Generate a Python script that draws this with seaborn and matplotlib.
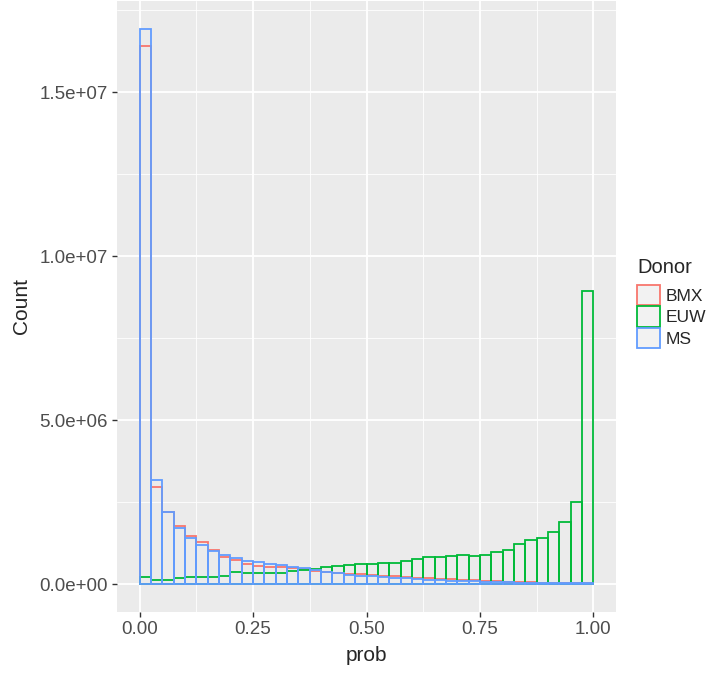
import numpy as np
import pandas as pd
import seaborn as sns
import matplotlib
matplotlib.use("Agg")
import matplotlib.pyplot as plt
from matplotlib.patches import Patch
from matplotlib.ticker import FuncFormatter, FixedLocator

# histogram counts per bin (binwidth 0.025, boundary 0)
bin_width = 0.025
bin_edges = [round(i * bin_width, 4) for i in range(41)]
bin_centers = [round((i + 0.5) * bin_width, 4) for i in range(40)]

donors = ["BMX", "EUW", "MS"]
donor_colors = {"BMX": "#F8766D", "EUW": "#00BA38", "MS": "#619CFF"}

# counts in millions
bmx_counts = [16.41, 2.97, 2.21, 1.78, 1.47, 1.28, 1.03, 0.82, 0.73, 0.61,
              0.57, 0.54, 0.53, 0.49, 0.46, 0.41, 0.38, 0.35, 0.32, 0.30,
              0.28, 0.26, 0.24, 0.22, 0.20, 0.18, 0.16, 0.15, 0.13, 0.12,
              0.10, 0.09, 0.08, 0.07, 0.06, 0.05, 0.04, 0.035, 0.03, 0.03]
euw_counts = [0.23, 0.12, 0.12, 0.20, 0.21, 0.21, 0.22, 0.24, 0.36, 0.35,
              0.34, 0.34, 0.35, 0.40, 0.44, 0.46, 0.52, 0.55, 0.60, 0.63,
              0.61, 0.65, 0.66, 0.72, 0.78, 0.84, 0.84, 0.87, 0.90, 0.86,
              0.89, 0.99, 1.05, 1.23, 1.34, 1.41, 1.58, 1.90, 2.50, 8.94]
ms_counts = [16.94, 3.19, 2.19, 1.71, 1.40, 1.19, 1.01, 0.89, 0.81, 0.72,
             0.67, 0.62, 0.59, 0.54, 0.48, 0.42, 0.37, 0.33, 0.29, 0.26,
             0.24, 0.22, 0.19, 0.18, 0.15, 0.13, 0.12, 0.11, 0.10, 0.09,
             0.08, 0.07, 0.06, 0.05, 0.045, 0.04, 0.035, 0.03, 0.03, 0.04]

counts = {"BMX": bmx_counts, "EUW": euw_counts, "MS": ms_counts}

df = pd.concat([
    pd.DataFrame({"prob": bin_centers,
                  "count": np.array(counts[d]) * 1e6,
                  "Donor": d})
    for d in donors
], ignore_index=True)

sns.set_style("darkgrid", {"axes.facecolor": "#EBEBEB", "grid.color": "white"})
plt.rcParams['font.family'] = ['Liberation Sans', 'DejaVu Sans']

fig = plt.figure(figsize=(7.09, 6.75), dpi=100)
ax = fig.add_axes([117 / 709, 63 / 675, 499 / 709, 611 / 675])
ax.set_axisbelow(True)

# one layer per donor, drawn in legend order so MS ends up on top
for d in donors:
    sub = df[df["Donor"] == d]
    sns.histplot(x=sub["prob"], weights=sub["count"],
                 bins=bin_edges, fill=False, element="bars",
                 color=donor_colors[d], linewidth=1.3, ax=ax)

ymax = df["count"].max()
ax.set_xlim(-0.05, 1.05)
ax.set_ylim(-0.05 * ymax, 1.05 * ymax)

ax.set_xticks([0, 0.25, 0.5, 0.75, 1.0])
ax.set_xticklabels(["0.00", "0.25", "0.50", "0.75", "1.00"])
ax.set_yticks([0, 5e6, 1e7, 1.5e7])
ax.yaxis.set_major_formatter(FuncFormatter(lambda v, p: f"{v:.1e}"))
ax.xaxis.set_minor_locator(FixedLocator([0.125, 0.375, 0.625, 0.875]))
ax.yaxis.set_minor_locator(FixedLocator([2.5e6, 7.5e6, 1.25e7, 1.75e7]))

ax.grid(which="major", color="white", linewidth=1.3)
ax.grid(which="minor", color="white", linewidth=0.6)
ax.tick_params(which="major", length=3.5, width=1, color="#333333",
               labelsize=13.5, labelcolor="#4D4D4D", pad=3, bottom=True, left=True)
ax.tick_params(which="minor", length=0)
for s in ax.spines.values():
    s.set_visible(False)

ax.set_xlabel("prob", fontsize=15, labelpad=6)
ax.set_ylabel("Count", fontsize=15, labelpad=6)

handles = [Patch(facecolor="#F2F2F2", edgecolor=donor_colors[d], linewidth=1.3)
           for d in donors]
leg = ax.legend(handles, donors, title="Donor", loc="center left",
                bbox_to_anchor=(637 / 709, 1 - 303 / 675),
                bbox_transform=fig.transFigure, frameon=False,
                fontsize=12.5, title_fontsize=14.5, handlelength=1.35,
                handleheight=1.45, labelspacing=0.05, handletextpad=0.28,
                borderpad=0, borderaxespad=0, alignment="left")
leg._legend_box.sep = 6  # a bit more room under the title, like ggplot

fig.savefig("out.png", dpi=100)
